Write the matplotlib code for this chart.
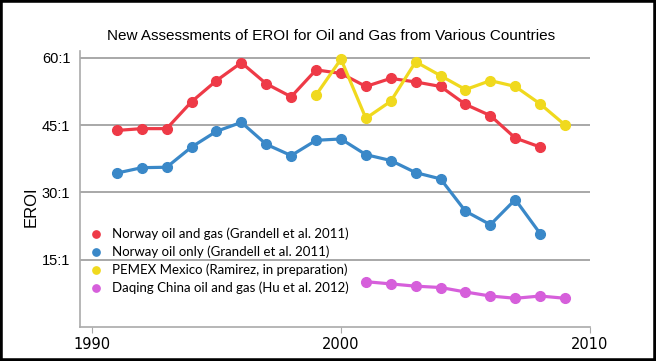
import matplotlib.pyplot as plt
from matplotlib.patches import Rectangle

# data
years_norway = list(range(1991, 2009))
norway_gas = [43.8, 44.2, 44.2, 50.2, 54.9, 58.9, 54.2, 51.3, 57.3, 56.5,
              53.6, 55.4, 54.6, 53.6, 49.6, 47.1, 42.1, 40.1]
norway_oil = [34.3, 35.5, 35.6, 40.1, 43.6, 45.6, 40.7, 38.2, 41.6, 41.9,
              38.4, 37.1, 34.4, 33.0, 25.8, 22.8, 28.4, 20.8]
years_pemex = list(range(1999, 2010))
pemex = [51.7, 59.7, 46.5, 50.3, 59.1, 56.0, 52.9, 54.9, 53.6, 49.7, 45.0]
years_daqing = list(range(2001, 2010))
daqing = [10.1, 9.6, 9.1, 8.8, 7.8, 6.9, 6.4, 6.9, 6.4]

labels = ["Norway oil and gas (Grandell et al. 2011)",
          "Norway oil only (Grandell et al. 2011)",
          "PEMEX Mexico (Ramirez, in preparation)",
          "Daqing China oil and gas (Hu et al. 2012)"]
colors = ["#EE3A47", "#3A88C8", "#F0D91E", "#D65FDB"]

y_ticks = [15, 30, 45, 60]
y_labels = ["15:1", "30:1", "45:1", "60:1"]
x_ticks = [1990, 2000, 2010]

fig = plt.figure(figsize=(6.56, 3.61), dpi=100)
ax = fig.add_axes([80/656, 34/361, 510/656, 276/361])

series = [(years_norway, norway_gas), (years_norway, norway_oil),
          (years_pemex, pemex), (years_daqing, daqing)]
for (xs, ys), c, lab in zip(series, colors, labels):
    ax.plot(xs, ys, color=c, lw=2.3, marker="o", ms=7, label=lab,
            clip_on=False, zorder=3)

ax.set_xlim(1989.52, 2010)
ax.set_ylim(0, 61.5)
ax.set_yticks(y_ticks, y_labels, fontsize=10.5, family="Liberation Sans")
ax.set_xticks(x_ticks, [str(x) for x in x_ticks], fontsize=10.5)
ax.grid(axis="y", color="#999999", lw=1.2)
ax.set_axisbelow(True)
for s in ["top", "right"]:
    ax.spines[s].set_visible(False)
for s in ["left", "bottom"]:
    ax.spines[s].set_color("#aaaaaa")
    ax.spines[s].set_linewidth(1.2)
ax.tick_params(axis="y", length=0, pad=7)
ax.tick_params(axis="x", length=4, color="#aaaaaa", pad=3)
ax.set_ylabel("EROI", fontsize=12, family="Liberation Sans")
ax.yaxis.set_label_coords(-41/510, 0.435)

leg = ax.legend(loc="lower left", bbox_to_anchor=(0.0, 0.075), frameon=False,
                prop={"family": "Lato", "size": 9.5}, handlelength=0.6,
                handletextpad=0.9, labelspacing=0.42, markerscale=0.75)
for h in leg.legend_handles:
    h.set_linestyle("none")

fig.text(0.505, 0.9, "New Assessments of EROI for Oil and Gas from Various Countries",
         ha="center", va="center", fontsize=11, family="Liberation Sans")

fig.patches.append(Rectangle((0, 0), 1, 1, transform=fig.transFigure,
                             fill=False, ec="black", lw=4))

fig.savefig("out.png", dpi=100)
